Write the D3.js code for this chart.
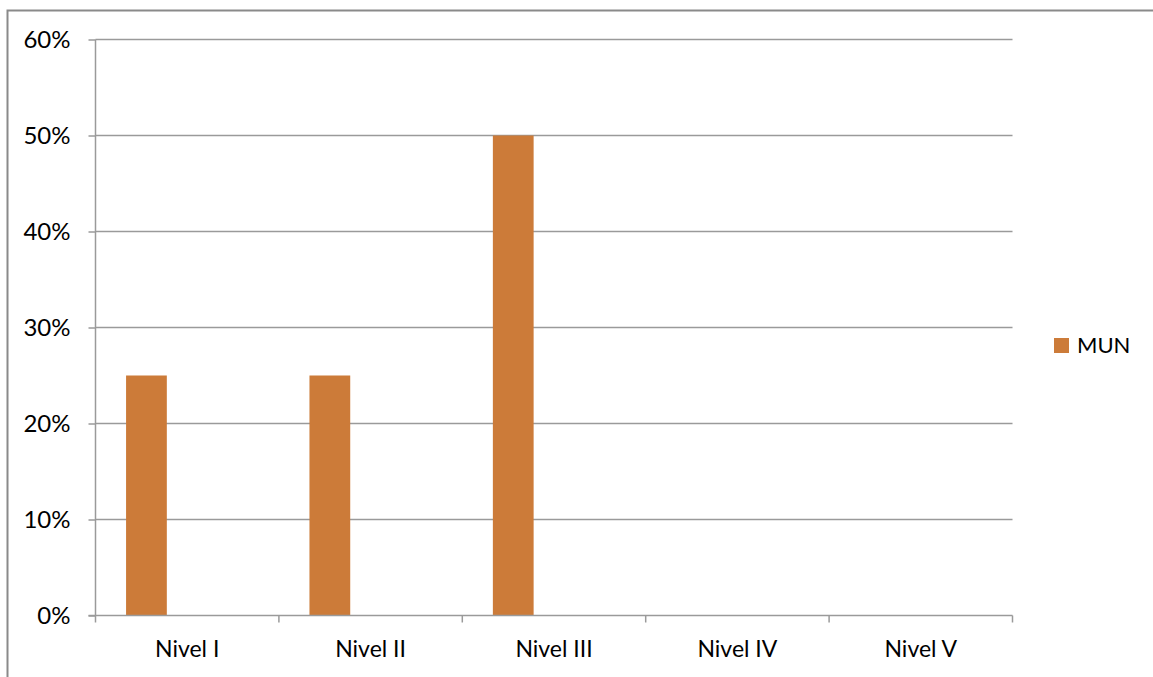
<!DOCTYPE html>
<html>
<head>
<meta charset="utf-8">
<script src="https://cdn.jsdelivr.net/npm/d3@7"></script>
<style>
  html, body { margin: 0; padding: 0; background: #fff; }
  svg { display: block; }
  text { font-family: Lato, "Open Sans", sans-serif; fill: #000; }
</style>
</head>
<body>
<svg id="chart" width="1153" height="677"></svg>
<script>
// Category labels along the x axis
const categories = ["Nivel I", "Nivel II", "Nivel III", "Nivel IV", "Nivel V"];
// Series slots within each category (only MUN carries values)
const seriesNames = ["MUN", "", ""];
// MUN share per level, as fractions
const munValues = [0.25, 0.25, 0.50, 0, 0];
// Y axis tick values
const yTicks = [0, 0.1, 0.2, 0.3, 0.4, 0.5, 0.6];

const svg = d3.select("#chart");
const W = 1153, H = 677;
const plot = { left: 95.5, right: 1012.5, top: 39.5, bottom: 615.5 };
const gridColor = "#9a9a9a";
const barColor = "#cc7b39";

// Outer chart frame (top and left edges visible)
svg.append("path")
  .attr("d", `M7.5,${H} V10.5 H${W}`)
  .attr("fill", "none")
  .attr("stroke", "#8a8a8a")
  .attr("stroke-width", 2);

const x = d3.scaleBand().domain(categories).range([plot.left, plot.right]).paddingInner(0).paddingOuter(0);
// Sub-band for series: 3 slots with a 150% gap shared at both ends
const xs = d3.scaleBand().domain(d3.range(seriesNames.length))
  .range([0, x.bandwidth()]).paddingInner(0).paddingOuter(0.75);
const y = d3.scaleLinear().domain([0, 0.6]).range([plot.bottom, plot.top]);

// Horizontal gridlines
svg.append("g").selectAll("line").data(yTicks.filter(d => d > 0)).join("line")
  .attr("x1", plot.left).attr("x2", plot.right)
  .attr("y1", d => y(d)).attr("y2", d => y(d))
  .attr("stroke", gridColor).attr("stroke-width", 1.5);

// Bars
svg.append("g").selectAll("rect").data(munValues.map((v, i) => ({ c: categories[i], v })))
  .join("rect")
  .attr("x", d => x(d.c) + xs(0))
  .attr("width", xs.bandwidth())
  .attr("y", d => y(d.v))
  .attr("height", d => y(0) - y(d.v))
  .attr("fill", barColor);

// Y axis
const yAxis = d3.axisLeft(y).tickValues(yTicks).tickFormat(d3.format(".0%")).tickSize(7).tickPadding(18);
const gy = svg.append("g").attr("transform", `translate(${plot.left},0)`).call(yAxis);
gy.select(".domain").attr("stroke", gridColor).attr("stroke-width", 1.5).attr("d", `M0,${plot.top}V${plot.bottom}`);
gy.selectAll(".tick line").attr("stroke", gridColor).attr("stroke-width", 1.5);
gy.selectAll(".tick text").style("font-size", "24px").style("font-family", "Lato, sans-serif").attr("fill", "#000").attr("dy", "0.34em");

// X axis with ticks on category boundaries
const gx = svg.append("g").attr("transform", `translate(0,${plot.bottom})`);
gx.append("line").attr("x1", plot.left - 7).attr("x2", plot.right)
  .attr("stroke", gridColor).attr("stroke-width", 1.5);
const bounds = categories.map(c => x(c)).concat([plot.right]);
gx.selectAll("line.tick").data(bounds).join("line").attr("class", "tick")
  .attr("x1", d => d).attr("x2", d => d).attr("y1", 0).attr("y2", 7)
  .attr("stroke", gridColor).attr("stroke-width", 1.5);
gx.selectAll("text").data(categories).join("text")
  .attr("x", d => x(d) + x.bandwidth() / 2)
  .attr("y", 41)
  .attr("text-anchor", "middle")
  .style("font-size", "23px")
  .text(d => d);

// Legend
const lg = svg.append("g").attr("transform", "translate(1054,338)");
lg.append("rect").attr("width", 15).attr("height", 15).attr("fill", barColor);
lg.append("text").attr("x", 23).attr("y", 15).style("font-size", "22px").text(seriesNames[0]);
</script>
</body>
</html>
